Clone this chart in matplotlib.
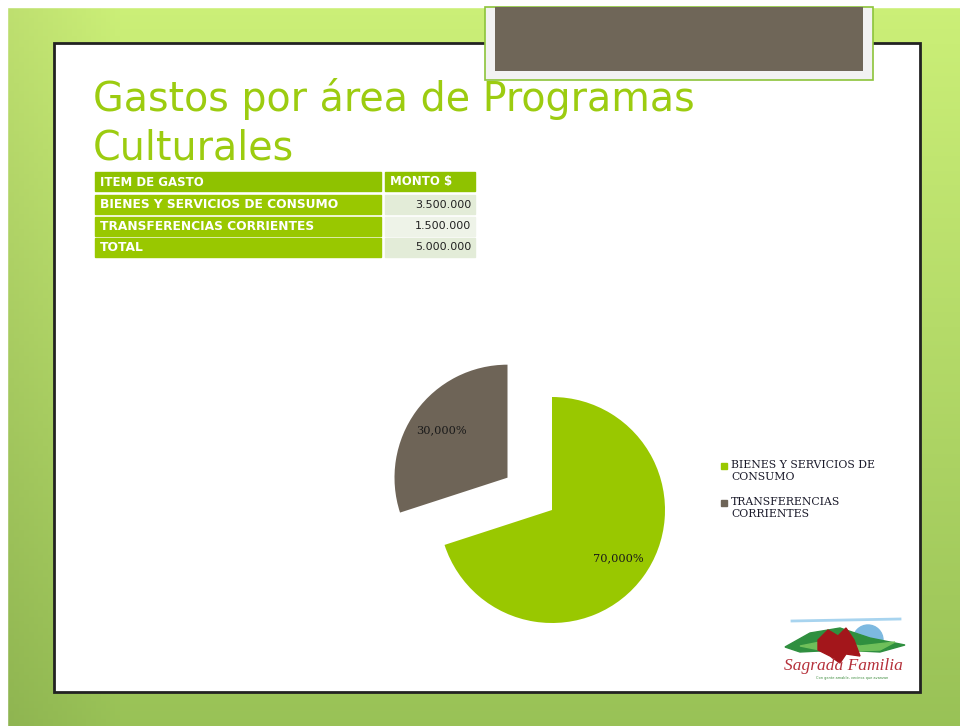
import matplotlib
matplotlib.use("Agg")
import matplotlib.pyplot as plt
from matplotlib.patches import Rectangle, Polygon, Wedge
import numpy as np

# datos
titulo = ["Gastos por área de Programas", "Culturales"]
cab_item = "ITEM DE GASTO"
cab_monto = "MONTO $"
items = ["BIENES Y SERVICIOS DE CONSUMO", "TRANSFERENCIAS CORRIENTES", "TOTAL"]
montos = [3500000, 1500000, 5000000]
sectores = ["BIENES Y SERVICIOS DE\nCONSUMO", "TRANSFERENCIAS\nCORRIENTES"]
valores = [3500000, 1500000]
colores = ["#99c800", "#6e6457"]

W, H = 960, 726
fig = plt.figure(figsize=(W / 100, H / 100), dpi=100)
ax = fig.add_axes([0, 0, 1, 1])
ax.set_xlim(0, W)
ax.set_ylim(H, 0)
ax.axis("off")

# fondo verde degradado
yy = np.linspace(0, 1, 200)[:, None]
xx = np.linspace(0, 1, 200)[None, :]
top = np.array([0.80, 0.94, 0.47])
bot = np.array([0.60, 0.76, 0.34])
img = top * (1 - yy[..., None]) + bot * yy[..., None]
img = img * (0.93 + 0.07 * np.clip(xx[..., None] * 8, 0, 1))
img = np.clip(img, 0, 1)
ax.imshow(img, extent=[0, W, H, 0], aspect="auto", zorder=0)
ax.add_patch(Rectangle((0, 0), W, 7, color="white", zorder=1))
ax.add_patch(Rectangle((0, 0), 7, H, color="white", zorder=1))

# area blanca
ax.add_patch(Rectangle((54, 43), 866, 649, facecolor="white",
                       edgecolor="#222222", lw=2, zorder=2))

# caja marron superior
ax.add_patch(Rectangle((485, 7), 388, 73, facecolor="#f2f2f2",
                       edgecolor="#8cc43a", lw=1.2, zorder=3))
ax.add_patch(Rectangle((495, 7), 368, 64, facecolor="#6f6658",
                       edgecolor="none", zorder=4))

# titulo
for i, t in enumerate(titulo):
    ax.text(93, 111 + i * 49, t, fontsize=28.5, family="DejaVu Sans",
            color="#9ccc10", va="baseline", ha="left", zorder=5)

# tabla
x1, x2, x3 = 95, 385, 475
ax.add_patch(Rectangle((x1, 172), x2 - 4 - x1, 19, color="#8fc200", zorder=5))
ax.add_patch(Rectangle((x2, 172), x3 - x2, 19, color="#8fc200", zorder=5))
ax.text(x1 + 5, 182, cab_item, fontsize=8.5, fontweight="bold", color="white",
        family="DejaVu Sans", va="center", zorder=6)
ax.text(x2 + 5, 182, cab_monto, fontsize=8.5, fontweight="bold", color="white",
        family="DejaVu Sans", va="center", zorder=6)
fondos = ["#e3ecd8", "#eef3e8", "#e3ecd8"]
for i, (it, m) in enumerate(zip(items, montos)):
    y0 = 195 + i * 21.5
    ax.add_patch(Rectangle((x1, y0), x2 - 4 - x1, 19, color="#99c800", zorder=5))
    ax.add_patch(Rectangle((x2, y0), x3 - x2, 19, color=fondos[i], zorder=5))
    ax.text(x1 + 5, y0 + 9.5, it, fontsize=8.8, fontweight="bold", color="white",
            family="DejaVu Sans", va="center", zorder=6)
    ax.text(x3 - 4, y0 + 9.5, f"{m:,}".replace(",", "."), fontsize=8,
            color="#222222", family="DejaVu Sans", va="center", ha="right", zorder=6)

# torta
pax = fig.add_axes([352 / W, (H - 710) / H, 400 / W, 400 / H])
pax.set_facecolor("none")
cunas, _, pct = pax.pie(valores, colors=colores, startangle=90, counterclock=False,
                        radius=1.13, explode=[0, 0.55], pctdistance=0.72,
                        autopct=lambda p: f"{p:.3f}%".replace(".", ","),
                        textprops=dict(family="DejaVu Serif", fontsize=8.2,
                                       color="#1a1a1a"))
pax.set_xlim(-2, 2)
pax.set_ylim(-2, 2)
pax.axis("off")

# leyenda
for i, (s, c) in enumerate(zip(sectores, colores)):
    yl = 466 + i * 37
    ax.add_patch(Rectangle((721, yl - 3), 6, 6, color=c, zorder=6))
    ax.text(731, yl - 6, s, fontsize=7.8, family="DejaVu Serif",
            color="#1a1a2a", va="top", ha="left", linespacing=1.2, zorder=6)

# logo
ax.add_patch(Wedge((868, 640), 15, 180, 360, color="#7db9e0", zorder=6))
ax.plot([792, 900], [621, 619], color="#a8d4ef", lw=2, zorder=6)
ax.add_patch(Polygon([(785, 647), (810, 633), (840, 628), (870, 638), (905, 645),
                      (880, 652), (840, 650), (800, 652)], color="#2f8f3f", zorder=7))
ax.add_patch(Polygon([(800, 646), (830, 640), (860, 646), (895, 642), (880, 650),
                      (830, 652)], color="#6fbf5a", zorder=7))
ax.add_patch(Polygon([(818, 640), (828, 630), (838, 636), (846, 628), (854, 640),
                      (860, 656), (846, 654), (840, 663), (830, 656), (818, 650)],
                     color="#a3161b", zorder=8))
ax.text(843, 666, "Sagrada Familia", fontsize=12.5, style="italic",
        family="Liberation Serif", color="#b5303a", ha="center", va="center", zorder=9)
ax.text(852, 678, "Con gente amable, vecinos que avanzan", fontsize=2.5,
        color="#3a8a3a", ha="center", va="center", zorder=9)

fig.savefig("out.png", dpi=100)
